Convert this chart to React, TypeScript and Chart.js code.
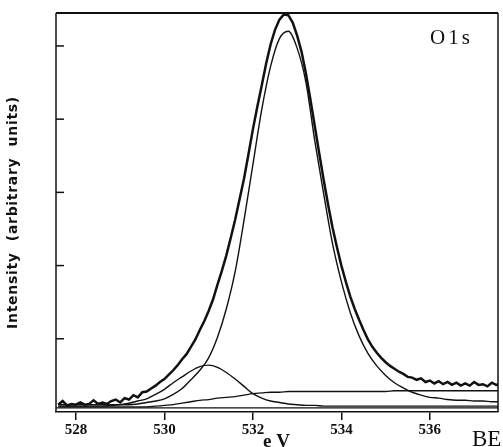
import React, { useEffect, useRef } from "react";
import { Chart, registerables } from "chart.js";

Chart.register(...registerables);

// Binding energy grid (eV) for the measured spectrum
const energyFine = [
  527.6, 527.7, 527.8, 527.9, 528.0, 528.1, 528.2, 528.3, 528.4, 528.5,
  528.6, 528.7, 528.8, 528.9, 529.0, 529.1, 529.2, 529.3, 529.4, 529.5,
  529.6, 529.7, 529.8, 529.9, 530.0, 530.1, 530.2, 530.3, 530.4, 530.5,
  530.6, 530.7, 530.8, 530.9, 531.0, 531.1, 531.2, 531.3, 531.4, 531.5,
  531.6, 531.7, 531.8, 531.9, 532.0, 532.1, 532.2, 532.3, 532.4, 532.5,
  532.6, 532.7, 532.8, 532.9, 533.0, 533.1, 533.2, 533.3, 533.4, 533.5,
  533.6, 533.7, 533.8, 533.9, 534.0, 534.1, 534.2, 534.3, 534.4, 534.5,
  534.6, 534.7, 534.8, 534.9, 535.0, 535.1, 535.2, 535.3, 535.4, 535.5,
  535.6, 535.7, 535.8, 535.9, 536.0, 536.1, 536.2, 536.3, 536.4, 536.5,
  536.6, 536.7, 536.8, 536.9, 537.0, 537.1, 537.2, 537.3, 537.4, 537.5,
  537.6,
];

// Measured O1s spectrum (arbitrary units)
const spectrum = [
  0.10, 0.15, 0.09, 0.11, 0.10, 0.13, 0.10, 0.11, 0.16, 0.11,
  0.13, 0.11, 0.15, 0.17, 0.13, 0.19, 0.17, 0.23, 0.20, 0.27,
  0.28, 0.32, 0.36, 0.41, 0.45, 0.51, 0.57, 0.64, 0.72, 0.79,
  0.89, 0.99, 1.12, 1.24, 1.38, 1.54, 1.74, 1.93, 2.14, 2.38,
  2.63, 2.91, 3.19, 3.52, 3.86, 4.17, 4.46, 4.76, 5.02, 5.22,
  5.36, 5.43, 5.42, 5.32, 5.14, 4.92, 4.62, 4.27, 3.90, 3.53,
  3.17, 2.83, 2.52, 2.25, 2.00, 1.78, 1.58, 1.41, 1.26, 1.12,
  0.99, 0.89, 0.81, 0.74, 0.68, 0.63, 0.59, 0.55, 0.52, 0.48,
  0.47, 0.44, 0.46, 0.41, 0.43, 0.39, 0.42, 0.38, 0.41, 0.37,
  0.40, 0.36, 0.39, 0.36, 0.41, 0.37, 0.38, 0.35, 0.40, 0.37,
  0.38,
];

// Grid for fitted components (eV)
const energyCoarse = [
  527.6, 527.8, 528.0, 528.2, 528.4, 528.6, 528.8, 529.0, 529.2, 529.4,
  529.6, 529.8, 530.0, 530.2, 530.4, 530.6, 530.8, 531.0, 531.2, 531.4,
  531.6, 531.8, 532.0, 532.2, 532.4, 532.6, 532.8, 533.0, 533.2, 533.4,
  533.6, 533.8, 534.0, 534.2, 534.4, 534.6, 534.8, 535.0, 535.2, 535.4,
  535.6, 535.8, 536.0, 536.2, 536.4, 536.6, 536.8, 537.0, 537.2, 537.4,
  537.6,
];

// Main component (~532.7 eV)
const mainPeak = [
  0.10, 0.10, 0.10, 0.10, 0.10, 0.10, 0.10, 0.10, 0.10, 0.11,
  0.13, 0.15, 0.18, 0.24, 0.32, 0.44, 0.57, 0.74, 1.02, 1.41,
  1.92, 2.62, 3.38, 4.13, 4.72, 5.10, 5.20, 4.97, 4.50, 3.70,
  2.98, 2.30, 1.78, 1.36, 1.04, 0.80, 0.63, 0.50, 0.40, 0.33,
  0.27, 0.23, 0.20, 0.19, 0.17, 0.16, 0.16, 0.15, 0.15, 0.14,
  0.14,
];

// Minor component (~531.0 eV)
const minorPeak = [
  0.08, 0.08, 0.08, 0.08, 0.08, 0.08, 0.09, 0.10, 0.12, 0.15,
  0.18, 0.24, 0.31, 0.40, 0.48, 0.56, 0.62, 0.64, 0.61, 0.54,
  0.45, 0.35, 0.25, 0.19, 0.15, 0.13, 0.11, 0.10, 0.09, 0.09,
  0.08, 0.08, 0.08, 0.08, 0.08, 0.08, 0.08, 0.08, 0.08, 0.08,
  0.08, 0.08, 0.08, 0.08, 0.08, 0.08, 0.08, 0.08, 0.08, 0.08,
  0.08,
];

// Step background
const stepBackground = [
  0.07, 0.07, 0.07, 0.07, 0.07, 0.07, 0.07, 0.07, 0.07, 0.07,
  0.07, 0.08, 0.09, 0.10, 0.12, 0.14, 0.16, 0.17, 0.19, 0.20,
  0.21, 0.23, 0.25, 0.26, 0.27, 0.27, 0.28, 0.28, 0.28, 0.28,
  0.28, 0.28, 0.28, 0.28, 0.28, 0.28, 0.28, 0.28, 0.29, 0.29,
  0.29, 0.29, 0.29, 0.29, 0.29, 0.29, 0.29, 0.29, 0.29, 0.29,
  0.29,
];

const baselineEnergies = [527.55, 537.55];
const baselineLevel = [0.055, 0.055];

const xTickValues = [528, 530, 532, 534, 536];
const yTickValues = [1, 2, 3, 4, 5];

const yTitle = "Intensity  (arbitrary  units)";
const peakLabel = "O1s";
const unitLabel = "e V";
const axisLabel = "BE";

const ink = "#111111";

function pairs(xs: number[], ys: number[]) {
  return xs.map((x, i) => ({ x, y: ys[i] }));
}

const framePlugin = {
  id: "frame",
  afterDraw(chart: any) {
    const { ctx, chartArea } = chart;
    const yScale = chart.scales.y;
    const { left, right, top, bottom } = chartArea;
    ctx.save();
    ctx.strokeStyle = ink;
    ctx.lineCap = "butt";
    ctx.lineWidth = 1.5;
    ctx.beginPath();
    ctx.moveTo(left, top);
    ctx.lineTo(left, bottom);
    ctx.stroke();
    ctx.beginPath();
    ctx.moveTo(right, top);
    ctx.lineTo(right, bottom);
    ctx.stroke();
    ctx.lineWidth = 2.2;
    ctx.beginPath();
    ctx.moveTo(left, top);
    ctx.lineTo(right, top);
    ctx.stroke();
    ctx.lineWidth = 1.5;
    yTickValues.forEach((v) => {
      const py = yScale.getPixelForValue(v);
      ctx.beginPath();
      ctx.moveTo(left, py);
      ctx.lineTo(left + 8, py);
      ctx.stroke();
    });
    ctx.fillStyle = ink;
    ctx.font = "bold 14px 'DejaVu Sans'";
    (ctx as any).letterSpacing = "0.7px";
    ctx.textAlign = "center";
    ctx.textBaseline = "middle";
    ctx.translate(13, (top + bottom) / 2);
    ctx.rotate(-Math.PI / 2);
    ctx.fillText(yTitle, 0, 0);
    ctx.restore();

    ctx.save();
    ctx.fillStyle = ink;
    ctx.textBaseline = "alphabetic";
    ctx.textAlign = "left";
    ctx.font = "21px 'Liberation Serif'";
    (ctx as any).letterSpacing = "3px";
    ctx.fillText(peakLabel, 430, 44);
    (ctx as any).letterSpacing = "0px";
    ctx.font = "bold 19px 'Liberation Serif'";
    ctx.fillText(unitLabel, 263, 447);
    ctx.font = "23px 'Liberation Serif'";
    ctx.fillText(axisLabel, 472, 446);
    ctx.restore();
  },
};

export default function App() {
  const canvasRef = useRef<HTMLCanvasElement | null>(null);

  useEffect(() => {
    const canvas = canvasRef.current;
    if (!canvas) return;
    const line = (data: any[], width: number, smooth: boolean) => ({
      data,
      borderColor: ink,
      borderWidth: width,
      pointRadius: 0,
      fill: false,
      tension: smooth ? 0.4 : 0,
      cubicInterpolationMode: smooth ? "monotone" : "default",
    });
    const chart = new Chart(canvas, {
      type: "line",
      data: {
        datasets: [
          line(pairs(baselineEnergies, baselineLevel), 1.2, false),
          line(pairs(energyCoarse, stepBackground), 1.3, true),
          line(pairs(energyCoarse, minorPeak), 1.4, true),
          line(pairs(energyCoarse, mainPeak), 1.4, true),
          line(pairs(energyFine, spectrum), 2.5, false),
        ] as any,
      },
      options: {
        animation: false,
        responsive: false,
        maintainAspectRatio: false,
        layout: { padding: { top: 13, right: 5, left: 0, bottom: 0 } },
        plugins: { legend: { display: false }, tooltip: { enabled: false } },
        scales: {
          x: {
            type: "linear",
            min: 527.55,
            max: 537.54,
            afterBuildTicks: (s: any) => {
              s.ticks = xTickValues.map((v) => ({ value: v }));
            },
            afterFit: (s: any) => {
              s.height = 35;
            },
            grid: {
              drawOnChartArea: false,
              drawTicks: true,
              tickLength: 8,
              color: ink,
              lineWidth: 1.5,
            },
            border: { display: true, color: ink, width: 1.5 },
            ticks: {
              color: ink,
              font: { family: "'Liberation Serif'", weight: "bold", size: 15 },
              padding: 1,
              maxRotation: 0,
              autoSkip: false,
              callback: (v: any) => String(v),
            },
          },
          y: {
            type: "linear",
            min: 0,
            max: 5.45,
            afterBuildTicks: (s: any) => {
              s.ticks = yTickValues.map((v) => ({ value: v }));
            },
            afterFit: (s: any) => {
              s.width = 56;
            },
            ticks: { display: false },
            grid: { display: false },
            border: { display: false },
          },
        },
      } as any,
      plugins: [framePlugin],
    });
    return () => chart.destroy();
  }, []);

  return (
    <div style={{ position: "fixed", left: 0, top: 0, width: 503, height: 447, background: "#fff" }}>
      <canvas ref={canvasRef} width={503} height={447} style={{ display: "block" }} />
    </div>
  );
}
